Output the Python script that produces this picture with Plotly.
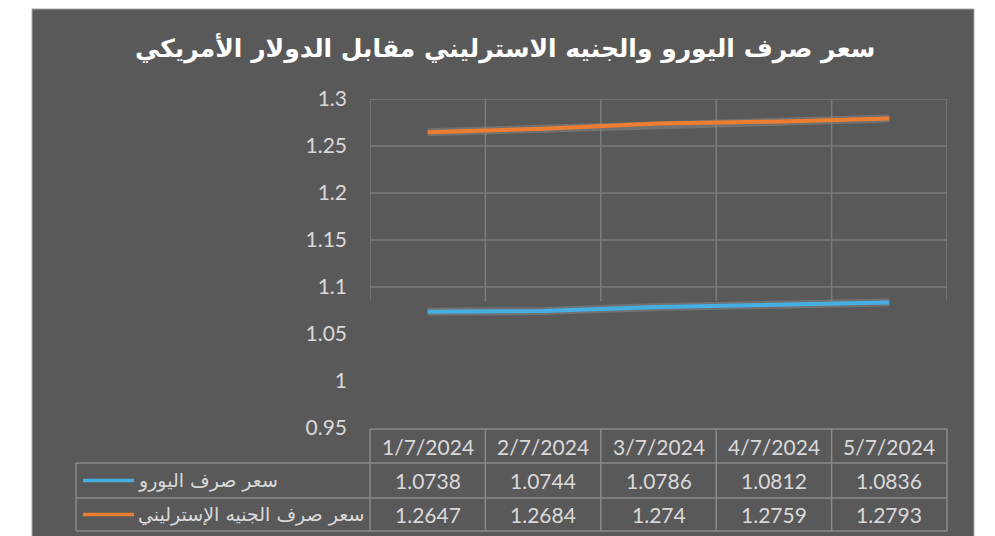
import plotly.graph_objects as go

dates = ["1/7/2024", "2/7/2024", "3/7/2024", "4/7/2024", "5/7/2024"]
euro = [1.0738, 1.0744, 1.0786, 1.0812, 1.0836]
gbp = [1.2647, 1.2684, 1.274, 1.2759, 1.2793]
euro_name = "سعر صرف اليورو"
gbp_name = "سعر صرف الجنيه الإسترليني"
title_text = "سعر صرف اليورو والجنيه الاسترليني مقابل الدولار الأمريكي"
y_ticks = [0.95, 1.0, 1.05, 1.1, 1.15, 1.2, 1.25, 1.3]
y_ticktext = ["0.95", "1", "1.05", "1.1", "1.15", "1.2", "1.25", "1.3"]

W, H = 995, 536
BG = "#595959"
GRID = "#7b7b7b"
TXT = "#d9d9d9"
BLUE = "#45aee3"
ORANGE = "#ee7d31"
NUMFONT = "Lato, 'Open Sans', sans-serif"
ARFONT = "'DejaVu Sans', 'Noto Sans', sans-serif"

def px(x):
    return x / W

def py(y):
    return 1 - y / H

xd = [px(370), px(947)]
yd = [py(428), py(99)]
n = len(dates)

def cx(i):
    return xd[0] + i / n * (xd[1] - xd[0])

fig = go.Figure()
for vals, col, name in [(euro, BLUE, euro_name), (gbp, ORANGE, gbp_name)]:
    fig.add_trace(go.Scatter(x=dates, y=vals, mode="lines",
                             line=dict(color="rgba(140,140,140,0.5)", width=8),
                             hoverinfo="skip", showlegend=False))
    fig.add_trace(go.Scatter(x=dates, y=vals, mode="lines", name=name,
                             line=dict(color=col, width=4), showlegend=False))

shapes = []
shapes.append(dict(type="rect", xref="paper", yref="paper", x0=px(32), x1=px(974),
                   y0=-0.01, y1=py(9), fillcolor=BG, line=dict(color="#a8a8a8", width=1),
                   layer="below"))
for t in y_ticks:
    if t >= 1.1 - 1e-9:
        shapes.append(dict(type="line", xref="x", yref="y", x0=-0.5, x1=n - 0.5,
                           y0=t, y1=t, line=dict(color=GRID, width=1.5), layer="below"))
for i in range(n + 1):
    shapes.append(dict(type="line", xref="x", yref="y", x0=i - 0.5, x1=i - 0.5,
                       y0=1.085, y1=1.3, line=dict(color=GRID, width=1.5), layer="below"))

row_y = [py(429), py(463), py(498), py(531)]
left = px(76)
TL = dict(color="#8a8a8a", width=1.5)
for i in range(n + 1):
    shapes.append(dict(type="line", xref="paper", yref="paper", x0=cx(i), x1=cx(i),
                       y0=row_y[0], y1=row_y[3], line=TL))
shapes.append(dict(type="line", xref="paper", yref="paper", x0=xd[0], x1=xd[1],
                   y0=row_y[0], y1=row_y[0], line=TL))
for r in row_y[1:]:
    shapes.append(dict(type="line", xref="paper", yref="paper", x0=left, x1=xd[1],
                       y0=r, y1=r, line=TL))
shapes.append(dict(type="line", xref="paper", yref="paper", x0=left, x1=left,
                   y0=row_y[1], y1=row_y[3], line=TL))
for k, col in enumerate([BLUE, ORANGE]):
    ym = (row_y[k + 1] + row_y[k + 2]) / 2
    shapes.append(dict(type="line", xref="paper", yref="paper", x0=px(83), x1=px(134),
                       y0=ym, y1=ym, line=dict(color=col, width=3.5)))

annotations = []
annotations.append(dict(text="<b>" + title_text + "</b>", xref="paper", yref="paper",
                        x=px(505), y=py(48), showarrow=False,
                        font=dict(family=ARFONT, size=25, color="white"),
                        xanchor="center", yanchor="middle"))
NF = dict(family=NUMFONT, size=21, color=TXT)
for i, d in enumerate(dates):
    for r, txt in enumerate([d, f"{euro[i]:g}", f"{gbp[i]:g}"]):
        annotations.append(dict(text=txt, xref="x", yref="paper", x=d,
                                y=(row_y[r] + row_y[r + 1]) / 2, showarrow=False,
                                xanchor="center", yanchor="middle", font=NF))
for k, name in enumerate([euro_name, gbp_name]):
    annotations.append(dict(text=name, xref="paper", yref="paper", x=px(136),
                            y=(row_y[k + 1] + row_y[k + 2]) / 2, xanchor="left",
                            yanchor="middle",
                            showarrow=False, font=dict(family=ARFONT, size=19, color=TXT)))

fig.update_layout(
    width=W, height=H,
    margin=dict(l=0, r=0, t=0, b=0, pad=0, autoexpand=False),
    paper_bgcolor="white",
    plot_bgcolor="rgba(0,0,0,0)",
    showlegend=False,
    xaxis=dict(domain=xd, type="category", range=[-0.5, n - 0.5], showticklabels=False,
               showgrid=False, zeroline=False, showline=False, fixedrange=True,
               automargin=False),
    yaxis=dict(domain=yd, range=[0.95, 1.3], tickvals=y_ticks, ticktext=y_ticktext,
               showgrid=False, zeroline=False, showline=False, ticks="",
               ticklabelstandoff=22, automargin=False,
               tickfont=dict(family=NUMFONT, size=21, color=TXT), fixedrange=True),
    shapes=shapes,
    annotations=annotations,
)

fig.write_html("out.html", config={"displayModeBar": False},
               post_script="document.body.style.margin='0';")
